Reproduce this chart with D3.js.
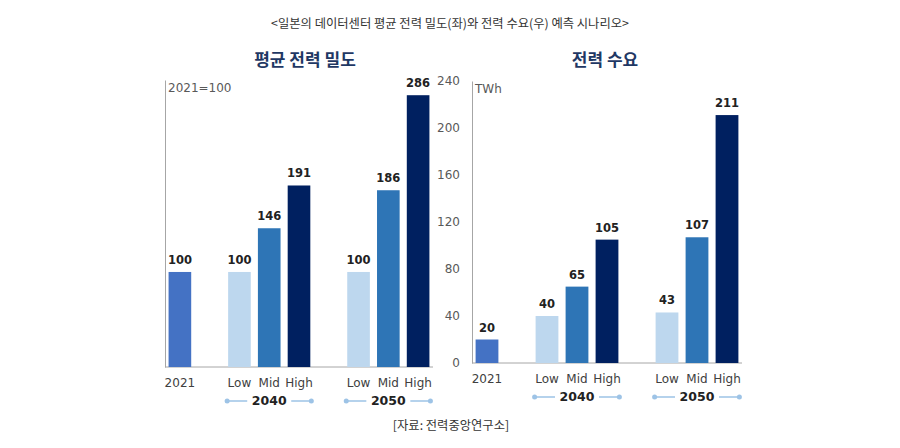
<!DOCTYPE html>
<html>
<head>
<meta charset="utf-8">
<script src="https://cdn.jsdelivr.net/npm/d3@7"></script>
<style>
  body { margin: 0; background: #fff; }
  svg text { font-family: "DejaVu Sans", "Noto Sans CJK KR", sans-serif; }
  .kr { font-family: "Noto Sans CJK KR", sans-serif; }
</style>
</head>
<body>
<div id="chart"></div>
<script>
// data
let categories = ["2021", "Low", "Mid", "High", "Low", "Mid", "High"];
let groups = ["", "2040", "2040", "2040", "2050", "2050", "2050"];
let scenarios = ["base", "Low", "Mid", "High", "Low", "Mid", "High"];
let densityValues = [100, 100, 146, 191, 100, 186, 286];
let demandValues = [20, 40, 65, 105, 43, 107, 211];
let demandTicks = [0, 40, 80, 120, 160, 200, 240];
let groupNames = ["2040", "2050"];

let WIDTH = 900, HEIGHT = 448;
let colors = { base: "#4472c4", Low: "#bdd7ee", Mid: "#2e75b6", High: "#002060" };

let svg = d3.select("#chart").append("svg").attr("width", WIDTH).attr("height", HEIGHT);

// slot keys, with empty slots between groups
function keyOf(i) { return groups[i] ? groups[i] + " " + categories[i] : categories[i]; }
let slots = ["2021", "gap1", "2040 Low", "2040 Mid", "2040 High", "gap2", "2050 Low", "2050 Mid", "2050 High"];

svg.append("text").attr("class", "kr")
   .attr("x", 450).attr("y", 28).attr("text-anchor", "middle")
   .attr("font-size", 12.3).attr("fill", "#333")
   .text("<일본의 데이터센터 평균 전력 밀도(좌)와 전력 수요(우) 예측 시나리오>");

svg.append("text").attr("class", "kr")
   .attr("x", 451).attr("y", 430).attr("text-anchor", "middle")
   .attr("font-size", 12.3).attr("fill", "#333")
   .text("[자료: 전력중앙연구소]");

function drawPanel(opt) {
  let x = d3.scaleBand().domain(slots).range([opt.x0, opt.x1]).paddingInner(0.24).paddingOuter(0.12);
  let y = d3.scaleLinear().domain([0, opt.yMax]).range([opt.base, opt.top]);
  let g = svg.append("g");

  g.append("text").attr("class", "kr")
   .attr("x", opt.titleX).attr("y", 66).attr("text-anchor", "middle")
   .attr("font-size", 17).attr("font-weight", "bold").attr("fill", "#1f3864")
   .text(opt.title);

  // y axis
  let yAxis = d3.axisLeft(y).tickSizeOuter(0).tickSizeInner(0).tickPadding(12);
  if (opt.ticks) yAxis.tickValues(opt.ticks); else yAxis.tickValues([]);
  let ya = g.append("g").attr("transform", "translate(" + opt.x0 + ",0)").call(yAxis);
  ya.select(".domain").attr("stroke", "#a6a6a6");
  ya.selectAll("text").attr("font-size", 12).attr("fill", "#595959");

  // baseline
  g.append("line").attr("x1", opt.x0).attr("x2", opt.x1)
   .attr("y1", y(0)).attr("y2", y(0)).attr("stroke", "#a6a6a6");

  g.append("text").attr("x", opt.x0 + 3).attr("y", opt.top + 12)
   .attr("font-size", 12).attr("fill", "#595959").text(opt.unit);

  let data = opt.values.map(function(v, i) { return { key: keyOf(i), v: v, s: scenarios[i], c: categories[i] }; });

  g.selectAll("rect.bar").data(data).enter().append("rect")
   .attr("class", "bar")
   .attr("x", function(d) { return x(d.key); })
   .attr("width", x.bandwidth())
   .attr("y", function(d) { return y(d.v); })
   .attr("height", function(d) { return y(0) - y(d.v); })
   .attr("fill", function(d) { return colors[d.s]; });

  g.selectAll("text.val").data(data).enter().append("text")
   .attr("class", "val")
   .attr("x", function(d) { return x(d.key) + x.bandwidth() / 2; })
   .attr("y", function(d) { return y(d.v) - 8; })
   .attr("text-anchor", "middle").attr("font-size", 11.5).attr("font-weight", "bold").attr("fill", "#222")
   .text(function(d) { return d.v; });

  g.selectAll("text.cat").data(data).enter().append("text")
   .attr("class", "cat")
   .attr("x", function(d) { return x(d.key) + x.bandwidth() / 2; })
   .attr("y", y(0) + 20)
   .attr("text-anchor", "middle").attr("font-size", 12).attr("fill", "#404040")
   .text(function(d) { return d.c; });

  // group labels with dotted-end lines
  groupNames.forEach(function(gn) {
    let left = x(gn + " Low") - 1;
    let right = x(gn + " High") + x.bandwidth() + 1;
    let mid = (left + right) / 2;
    let gy = y(0) + 38;
    let lg = g.append("g");
    [[left, mid - 22], [mid + 22, right]].forEach(function(seg) {
      lg.append("line").attr("x1", seg[0]).attr("x2", seg[1]).attr("y1", gy - 4).attr("y2", gy - 4)
        .attr("stroke", "#9dc3e6").attr("stroke-width", 1.5);
    });
    [left, right].forEach(function(cx) {
      lg.append("circle").attr("cx", cx).attr("cy", gy - 4).attr("r", 2.5).attr("fill", "#9dc3e6");
    });
    lg.append("text").attr("x", mid).attr("y", gy).attr("text-anchor", "middle")
      .attr("font-size", 12.5).attr("font-weight", "bold").attr("fill", "#222").text(gn);
  });
}

drawPanel({ title: "평균 전력 밀도", titleX: 305, x0: 165, x1: 433, top: 80, base: 367, yMax: 302,
            values: densityValues, ticks: null, unit: "2021=100" });
drawPanel({ title: "전력 수요", titleX: 605, x0: 472, x1: 742, top: 81, base: 363, yMax: 240,
            values: demandValues, ticks: demandTicks, unit: "TWh" });
</script>
</body>
</html>
